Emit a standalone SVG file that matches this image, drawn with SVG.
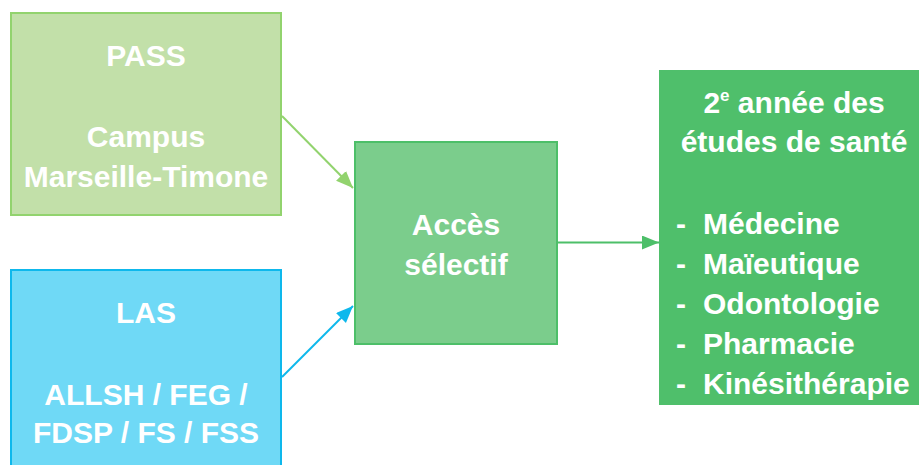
<svg xmlns="http://www.w3.org/2000/svg" width="919" height="465" viewBox="0 0 919 465">
<style>
text{font-family:"Liberation Sans",Arial,sans-serif;font-weight:bold;font-size:30px;fill:#ffffff}
.c{text-anchor:middle}
.conn{fill:none;stroke-width:2}
</style>
<defs>
<marker id="ag" markerUnits="userSpaceOnUse" markerWidth="18" markerHeight="16" refX="17" refY="7" orient="auto"><path d="M0,0 L17,7 L0,14 z" fill="#92d36e"/></marker>
<marker id="ab" markerUnits="userSpaceOnUse" markerWidth="18" markerHeight="16" refX="17" refY="7" orient="auto"><path d="M0,0 L17,7 L0,14 z" fill="#0eb8ec"/></marker>
<marker id="ad" markerUnits="userSpaceOnUse" markerWidth="18" markerHeight="16" refX="17" refY="7" orient="auto"><path d="M0,0 L17,7 L0,14 z" fill="#4dbf69"/></marker>
</defs>
<rect width="919" height="465" fill="#ffffff"/>
<g id="connectors">
<line class="conn" x1="282" y1="116" x2="353" y2="188" stroke="#92d36e" marker-end="url(#ag)"/>
<line class="conn" x1="282" y1="377" x2="353" y2="306" stroke="#0eb8ec" marker-end="url(#ab)"/>
<line class="conn" x1="557" y1="242.5" x2="659" y2="242.5" stroke="#4dbf69" marker-end="url(#ad)"/>
</g>
<g id="pass">
<rect x="11" y="13" width="270" height="202" fill="#c2e0a9" stroke="#92d36e" stroke-width="2"/>
<text class="c" x="146" y="66">PASS</text>
<text class="c" x="146" y="147">Campus</text>
<text class="c" x="146" y="187">Marseille-Timone</text>
</g>
<g id="las">
<rect x="11" y="270" width="270" height="220" fill="#6fd9f6" stroke="#0eb8ec" stroke-width="2"/>
<text class="c" x="146" y="323">LAS</text>
<text class="c" x="146" y="405">ALLSH / FEG /</text>
<text class="c" x="146" y="443">FDSP / FS / FSS</text>
</g>
<g id="acces">
<rect x="355" y="142" width="202" height="202" fill="#7bcd8c" stroke="#4dbf69" stroke-width="2"/>
<text class="c" x="456" y="235">Accès</text>
<text class="c" x="456" y="275">sélectif</text>
</g>
<g id="etudes">
<rect x="659" y="70" width="262" height="335" fill="#4fbf6b"/>
<text class="c" x="794" y="113">2<tspan font-size="17" dy="-12">e</tspan><tspan dy="12"> année des</tspan></text>
<text class="c" x="794" y="152">études de santé</text>
<text x="676" y="234">-</text><text x="703" y="234">Médecine</text>
<text x="676" y="274">-</text><text x="703" y="274">Maïeutique</text>
<text x="676" y="314">-</text><text x="703" y="314">Odontologie</text>
<text x="676" y="354">-</text><text x="703" y="354">Pharmacie</text>
<text x="676" y="394">-</text><text x="703" y="394">Kinésithérapie</text>
</g>
</svg>
